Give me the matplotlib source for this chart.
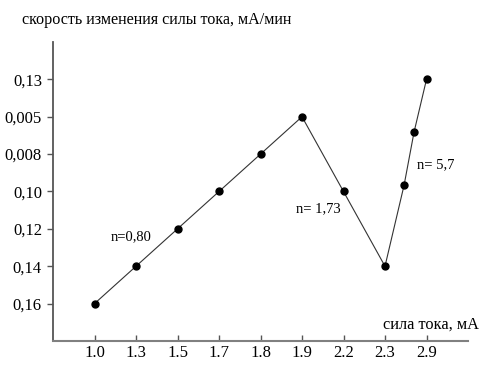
import matplotlib
matplotlib.use('Agg')
import matplotlib.pyplot as plt

# category labels of the axes (as printed in the figure)
x_labels = ['1.0', '1.3', '1.5', '1.7', '1.8', '1.9', '2.2', '2.3', '2.9']
y_labels = ['0,16', '0,14', '0,12', '0,10', '0,008', '0,005', '0,13']

# measured points, in category-position units
x_pos = [0, 1, 2, 3, 4, 5, 6, 7, 7.46, 7.70, 8]
y_pos = [0, 1, 2, 3, 4, 5, 3, 1, 3.17, 4.59, 6]

# slope annotations
notes = ['n=0,80', 'n= 1,73', 'n= 5,7']
note_xy = [(0.38, 1.78), (4.85, 2.55), (7.77, 3.72)]

plt.rcParams['font.family'] = ['Liberation Serif', 'DejaVu Serif']

fig = plt.figure(figsize=(4.8, 3.67), dpi=100)
ax = fig.add_axes([53/480, 1 - 341/367, (468-53)/480, (341-42)/367])

ax.plot(x_pos, y_pos, color='#333333', lw=0.8, marker='o', ms=5,
        mfc='black', mec='black', zorder=3)

ax.set_xlim(-1, 9)
ax.set_ylim(-1, 7)
ax.set_xticks(range(len(x_labels)))
ax.set_xticklabels(x_labels)
ax.set_yticks(range(len(y_labels)))
ax.set_yticklabels(y_labels)

for s in ['top', 'right']:
    ax.spines[s].set_visible(False)
ax.spines['left'].set_color('#555555')
ax.spines['bottom'].set_color('#808080')
ax.spines['left'].set_linewidth(1.3)
ax.spines['bottom'].set_linewidth(1.5)

ax.tick_params(axis='x', direction='in', length=4, width=1, color='#555555',
               labelsize=12, pad=3)
ax.tick_params(axis='y', direction='out', length=4, width=1, color='#555555',
               labelsize=12, pad=4)

for t, (xx, yy) in zip(notes, note_xy):
    ax.text(xx, yy, t, fontsize=10.5, va='center', ha='left')

fig.text(22/480, 1 - 20/367, 'скорость изменения силы тока, мА/мин',
         fontsize=11.6, va='center', ha='left')
fig.text(383/480, 1 - 325/367, 'сила тока, мА', fontsize=11.8,
         va='center', ha='left')

fig.savefig('out.png', dpi=100)
